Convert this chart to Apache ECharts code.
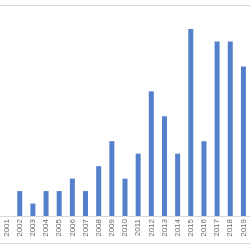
<!DOCTYPE html>
<html><head><meta charset="utf-8">
<script src="https://cdn.jsdelivr.net/npm/echarts@6/dist/echarts.min.js"></script>
<style>html,body{margin:0;padding:0;background:#fff}#c{width:250px;height:250px}</style>
</head><body><div id="c"></div>
<script>
const years = ['2001','2002','2003','2004','2005','2006','2007','2008','2009','2010','2011','2012','2013','2014','2015','2016','2017','2018','2019'];
const counts = [0,2,1,2,2,3,2,4,6,3,5,10,8,5,15,6,14,14,12];

const chart = echarts.init(document.getElementById('c'), null, {renderer:'canvas'});
chart.setOption({
  animation:false,
  backgroundColor:'#ffffff',
  grid:{left:-7.1, right:-4.3, top:29, bottom:34, containLabel:false},
  xAxis:{
    type:'category', data:years,
    axisLine:{show:true, lineStyle:{color:'#d9d9d9', width:1}},
    axisTick:{show:false},
    axisLabel:{rotate:90, fontSize:8, color:'#6b6b6b', margin:3, fontFamily:'Liberation Sans', interval:0}
  },
  yAxis:{type:'value', min:0, max:15, show:false, splitLine:{show:false}},
  series:[{
    type:'bar', data:counts, barWidth:5,
    itemStyle:{color:'#5580cb'}
  }],
  graphic:[
    {type:'line', shape:{x1:0,y1:5.5,x2:250,y2:5.5}, style:{stroke:'#d9d9d9', lineWidth:1}},
    {type:'line', shape:{x1:0,y1:243.5,x2:250,y2:243.5}, style:{stroke:'#d9d9d9', lineWidth:1}}
  ]
});
</script></body></html>
